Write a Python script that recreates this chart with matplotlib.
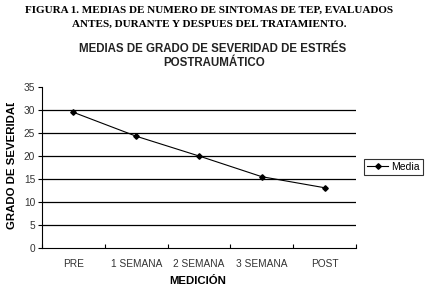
import matplotlib
matplotlib.use("Agg")
import matplotlib.pyplot as plt
from matplotlib.transforms import Bbox

# data
etapas = ["PRE", "1 SEMANA", "2 SEMANA", "3 SEMANA", "POST"]
media = [29.5, 24.3, 20.0, 15.5, 13.1]
y_ticks = [0, 5, 10, 15, 20, 25, 30, 35]

W, H = 427, 288
fig = plt.figure(figsize=(W / 100, H / 100), dpi=100)
fig.patch.set_facecolor("white")

# axes box in pixels: left 42, right 356, top 87, bottom 248
ax = fig.add_axes([42 / W, 1 - 248 / H, (356 - 42) / W, (248 - 87) / H])

x = list(range(len(etapas)))
ax.plot(x, media, color="black", lw=0.8, marker="D", ms=2.8, label="Media")

ax.set_xlim(-0.5, len(etapas) - 0.5)
ax.set_ylim(0, 35)
ax.set_yticks(y_ticks)
for v in y_ticks[1:-1]:
    ax.axhline(v, color="black", lw=0.9, zorder=0)

# ticks sit between categories, labels at the centres
ax.set_xticks([i - 0.5 for i in range(len(etapas) + 1)])
ax.set_xticklabels([])
ax.set_xticks(x, minor=True)
ax.set_xticklabels(etapas, minor=True)
ax.tick_params(axis="x", which="minor", length=0, pad=8)
ax.tick_params(axis="x", which="major", length=3, direction="in", width=0.8)
ax.tick_params(axis="y", length=3, width=0.8, pad=2)
ax.tick_params(which="both", labelsize=7.3, labelcolor="#333333")
for lab in ax.get_xticklabels(minor=True) + ax.get_yticklabels():
    lab.set_family("Liberation Sans")

for s in ["top", "right"]:
    ax.spines[s].set_visible(False)
ax.spines["left"].set_linewidth(0.8)
ax.spines["bottom"].set_linewidth(0.8)

leg = ax.legend(loc="center left", bbox_to_anchor=(364 / W, 1 - 167 / H),
                bbox_transform=fig.transFigure, frameon=True, fancybox=False,
                prop={"family": "Liberation Sans", "size": 7.5},
                handlelength=2.0, borderpad=0.3, handletextpad=0.3,
                borderaxespad=0)
leg.get_frame().set_edgecolor("black")
leg.get_frame().set_linewidth(0.8)

# header text
fig.text(209 / W, 1 - 10 / H, "FIGURA 1. MEDIAS DE NUMERO DE SINTOMAS DE TEP, EVALUADOS",
         ha="center", va="center", family="Liberation Serif", weight="bold", size=8.0)
fig.text(209 / W, 1 - 24 / H, "ANTES, DURANTE Y DESPUES DEL TRATAMIENTO.",
         ha="center", va="center", family="Liberation Serif", weight="bold", size=8.0)

fig.text(213 / W, 1 - 49 / H, "MEDIAS DE GRADO DE SEVERIDAD DE ESTRÉS",
         ha="center", va="center", family="Liberation Sans", weight="bold",
         size=8.3, color="#222222")
fig.text(214 / W, 1 - 63 / H, "POSTRAUMÁTICO",
         ha="center", va="center", family="Liberation Sans", weight="bold",
         size=8.3, color="#222222")

fig.text(198 / W, 1 - 281 / H, "MEDICIÓN", ha="center", va="center",
         family="Liberation Sans", weight="bold", size=8.2)

# y label is cut at the top in the original
ylab = fig.text(12 / W, 1 - 163 / H, "GRADO DE SEVERIDAD", rotation=90,
                ha="center", va="center", family="Liberation Sans",
                weight="bold", size=8.2)
ylab.set_clip_box(Bbox.from_extents(0, 0, 30, H - 103))
ylab.set_clip_on(True)

fig.savefig("out.png", dpi=100, facecolor="white")
